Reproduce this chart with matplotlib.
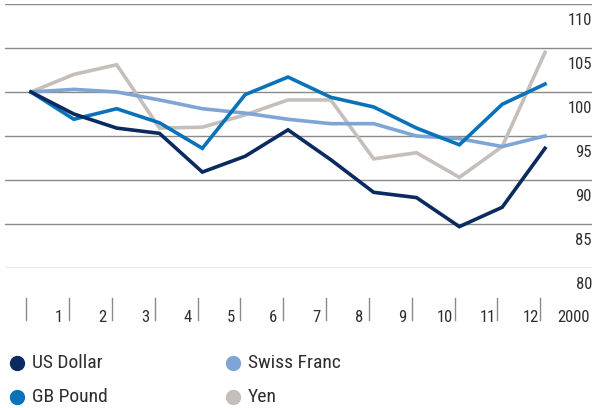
import matplotlib
matplotlib.use('Agg')
import matplotlib.pyplot as plt
from matplotlib.lines import Line2D

# index values, month 0 = 100
months = list(range(13))
usd = [100, 97.5, 95.9, 95.3, 90.9, 92.7, 95.7, 92.3, 88.6, 88.0, 84.7, 86.9, 93.6]
gbp = [100, 96.9, 98.1, 96.5, 93.6, 99.7, 101.7, 99.4, 98.3, 95.9, 94.0, 98.6, 100.9]
chf = [100, 100.3, 100.0, 99.1, 98.1, 97.6, 96.9, 96.4, 96.4, 95.0, 94.7, 93.8, 95.0]
jpy = [100, 102.0, 103.1, 95.9, 96.0, 97.4, 99.1, 99.1, 92.4, 93.1, 90.3, 93.8, 104.5]

series = ['US Dollar', 'GB Pound', 'Swiss Franc', 'Yen']
colors = ['#0b2a60', '#0a72b9', '#7fa4d6', '#c6beba']
y_ticks = [80, 85, 90, 95, 100, 105, 110]
x_labels = ['1', '2', '3', '4', '5', '6', '7', '8', '9', '10', '11', '12', '2000']

plt.rcParams['font.family'] = ['Roboto Condensed', 'DejaVu Sans']
txt_col = '#2e2e2e'

fig = plt.figure(figsize=(5.94, 4.08), dpi=100)
ax = fig.add_axes([5 / 594, 1 - 268 / 408, 587 / 594, 264 / 408])
ax.set_xlim(-0.607, 13.097)
ax.set_ylim(80, 110)
ax.set_axis_off()

for v in y_ticks:
    ax.axhline(v, color='#8a8a8a', lw=1.0, zorder=1)
    ax.text(13.097, v - 1.9, str(v), ha='right', va='center', fontsize=12,
            color=txt_col, clip_on=False)

for vals, c in zip([usd, gbp, chf, jpy][::-1], colors[::-1]):
    ax.plot(months, vals, color=c, lw=2.6, solid_joinstyle='miter', zorder=3)

# bottom tick bars and month labels
for i in range(13):
    ax.plot([i - 0.11, i - 0.11], [76.6, 74.1], color='#8a8a8a', lw=1.0,
            clip_on=False)
for i, lab in enumerate(x_labels):
    ax.text(i + 1 - 0.34, 74.4, lab, ha='center', va='center', fontsize=12,
            color=txt_col, clip_on=False)

# legend
pos = [(17, 363), (17, 397), (233, 363), (233, 397)]
for name, c, (px, py) in zip(series, colors, pos):
    fig.add_artist(Line2D([px / 594], [1 - py / 408], marker='o', ms=10,
                          color=c, lw=0, transform=fig.transFigure))
    fig.text((px + 15) / 594, 1 - py / 408, name, ha='left', va='center',
             fontsize=14, color=txt_col)

fig.savefig('out.png', dpi=100)
